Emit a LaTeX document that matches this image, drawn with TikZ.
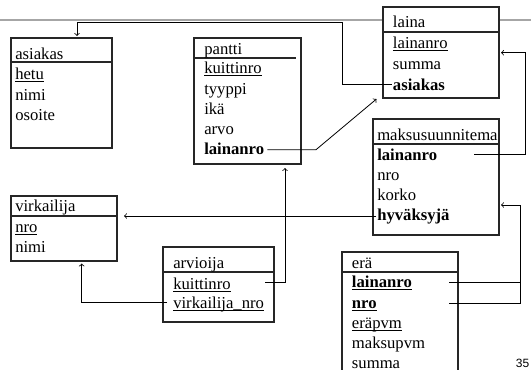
\documentclass[tikz,border=0pt]{standalone}
\usepackage{fontspec}
\setmainfont{Liberation Serif}
\newfontfamily\pagenofont{Liberation Sans}
\usepackage{tikz}

\newcommand{\keyul}[1]{\underline{\smash{#1}}}

\begin{document}
\begin{tikzpicture}[x=0.75pt,y=0.75pt,yscale=-1,xscale=1,
    attr/.style={anchor=base west,inner sep=0.75pt,font=\fontsize{12.5}{15}\selectfont},
    tbl/.style={draw=black!85,line width=0.8pt,fill=white},
    link/.style={line width=0.6pt}]
    \useasboundingbox (0,0) rectangle (531,369);
    \clip (0,0) rectangle (531,369);

    %Straight Lines [id:toprule]
    \draw [gray!70,line width=1.3pt] (0,20) -- (531,20) ;

    %Shape: Rectangle [id:asiakas]
    \draw [tbl] (11,38) rectangle (112,148) ;
    \draw [tbl] (11,62) -- (112,62) ;
    %Shape: Rectangle [id:pantti]
    \draw [tbl] (194,38) rectangle (301,164) ;
    \draw [tbl] (194,58) -- (296,58) ;
    %Shape: Rectangle [id:laina]
    \draw [tbl] (383,7) rectangle (499,98) ;
    \draw [tbl] (383,32) -- (499,32) ;
    %Shape: Rectangle [id:maksusuunnitema]
    \draw [tbl] (373,119) rectangle (499,235) ;
    \draw [tbl] (373,144) -- (499,144) ;
    %Shape: Rectangle [id:virkailija]
    \draw [tbl] (11,196) rectangle (117,261) ;
    \draw [tbl] (11,216) -- (117,216) ;
    %Shape: Rectangle [id:arvioija]
    \draw [tbl] (163,247) rectangle (274,322) ;
    \draw [tbl] (163,272) -- (274,272) ;
    %Shape: Rectangle [id:era]
    \draw [tbl] (342,252) rectangle (458,380) ;
    \draw [tbl] (342,272) -- (458,272) ;

    % Text Node
    \draw (14,59.3) node [attr] (asiHead) {asiakas};
    \draw (14,79) node [attr] (asiHetu) {\keyul{hetu}};
    \draw (14,100) node [attr] (asiNimi) {nimi};
    \draw (14,120.7) node [attr] (asiOsoite) {osoite};
    % Text Node
    \draw (203,54.3) node [attr] (panHead) {pantti};
    \draw (203,73.8) node [attr] (panKuittinro) {\keyul{kuittinro}};
    \draw (203,94) node [attr] (panTyyppi) {tyyppi};
    \draw (203,114.3) node [attr] (panIka) {ikä};
    \draw (203,134.3) node [attr] (panArvo) {arvo};
    \draw (203,154.3) node [attr] (panLainanro) {\textbf{lainanro}};
    % Text Node
    \draw (391.7,27.3) node [attr] (laiHead) {laina};
    \draw (391.7,48.3) node [attr] (laiLainanro) {\keyul{lainanro}};
    \draw (391.7,69) node [attr] (laiSumma) {summa};
    \draw (391.7,90) node [attr] (laiAsiakas) {\textbf{asiakas}};
    % Text Node
    \draw (376,140) node [attr] (mksHead) {maksusuunnitema};
    \draw (376,160) node [attr] (mksLainanro) {\textbf{lainanro}};
    \draw (376,180.3) node [attr] (mksNro) {nro};
    \draw (376,200.7) node [attr] (mksKorko) {korko};
    \draw (376,220.7) node [attr] (mksHyvaksyja) {\textbf{hyväksyjä}};
    % Text Node
    \draw (14,211.7) node [attr] (virHead) {virkailija};
    \draw (14,232.3) node [attr] (virNro) {\keyul{nro}};
    \draw (14,252.7) node [attr] (virNimi) {nimi};
    % Text Node
    \draw (172,268.3) node [attr] (arvHead) {arvioija};
    \draw (172,289) node [attr] (arvKuittinro) {\keyul{kuittinro}};
    \draw (172,308.3) node [attr] (arvVirkailija) {\keyul{virkailija\_nro}};
    % Text Node
    \draw (350.7,268.5) node [attr] (eraHead) {erä};
    \draw (350.7,287.5) node [attr] (eraLainanro) {\keyul{\textbf{lainanro}}};
    \draw (350.7,308) node [attr] (eraNro) {\keyul{\textbf{nro}}};
    \draw (350.7,328) node [attr] (eraErapvm) {\keyul{eräpvm}};
    \draw (350.7,348) node [attr] (eraMaksupvm) {maksupvm};
    \draw (350.7,368) node [attr] (eraSumma) {summa};
    % Text Node
    \draw (529.5,367.3) node [anchor=base east,inner sep=0pt,font=\pagenofont\fontsize{9}{11}\selectfont] (pageNo) {35};

    % Connector points
    \coordinate (asiIn) at (77,36);
    \coordinate (topBend) at (342,22);
    \coordinate (panBend) at (316,149.7);
    \coordinate (laiSW) at (376.5,99);
    \coordinate (mksOut) at (474,154.3);
    \coordinate (rgtBend) at (525,52.7);
    \coordinate (laiIn) at (501,52.7);
    \coordinate (virIn) at (124,216);
    \coordinate (arvOut) at (265,282.3);
    \coordinate (panIn) at (285,168);
    \coordinate (arvVirOut) at (167,302.7);
    \coordinate (virBot) at (81.7,263.5);
    \coordinate (eraLaiOut) at (449,282.3);
    \coordinate (eraNroOut) at (449,303.3);
    \coordinate (eraBend) at (520,205);
    \coordinate (mksIn) at (501,205);

    %Connectors
    \draw [link,->] (laiAsiakas.west) -| (topBend) -| (asiIn) ;
    \draw [link,->] ([xshift=1.5pt]panLainanro.east |- panBend) -- (panBend) -- (laiSW) ;
    \draw [link,->] (mksOut) -| (rgtBend) -- (laiIn) ;
    \draw [link,->] (mksHyvaksyja.west |- virIn) -- (virIn) ;
    \draw [link,->] (arvOut) -| (panIn) ;
    \draw [link,->] (arvVirOut) -| (virBot) ;
    \draw [link,->] (eraNroOut) -| (eraBend) -- (mksIn) ;
    \draw [link] (eraLaiOut) -- (eraLaiOut -| eraBend) ;

\end{tikzpicture}
\end{document}
